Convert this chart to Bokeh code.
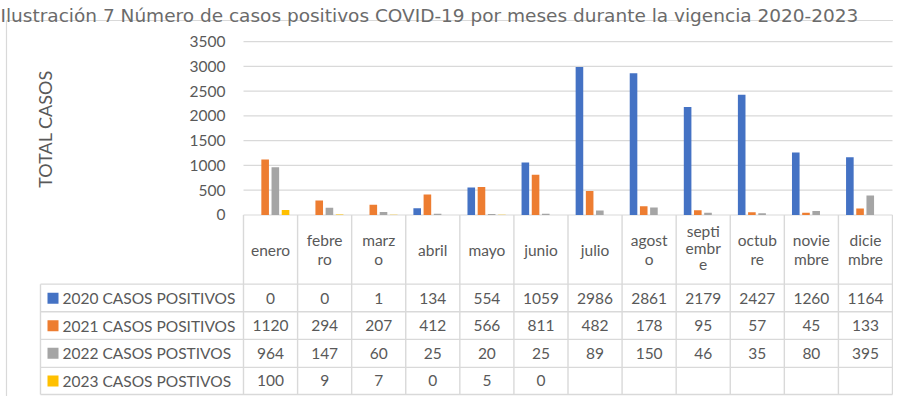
import math
from bokeh.plotting import figure
from bokeh.models import Range1d, ColumnDataSource
from bokeh.core.properties import value
from bokeh.transform import dodge
from bokeh.embed import file_html
from bokeh.resources import INLINE

# ---------------- data ----------------
TITLE = "Ilustración 7 Número de casos positivos COVID-19 por meses durante la vigencia 2020-2023"
Y_LABEL = "TOTAL CASOS"
MONTHS = ["enero", "febrero", "marzo", "abril", "mayo", "junio", "julio",
          "agosto", "septiembre", "octubre", "noviembre", "diciembre"]
MONTH_LABELS = ["enero", "febre\nro", "marz\no", "abril", "mayo", "junio", "julio",
                "agost\no", "septi\nembr\ne", "octub\nre", "novie\nmbre", "dicie\nmbre"]
SERIES = ["2020 CASOS POSITIVOS", "2021 CASOS POSITIVOS",
          "2022 CASOS POSTIVOS", "2023 CASOS POSTIVOS"]
V2020 = [0, 0, 1, 134, 554, 1059, 2986, 2861, 2179, 2427, 1260, 1164]
V2021 = [1120, 294, 207, 412, 566, 811, 482, 178, 95, 57, 45, 133]
V2022 = [964, 147, 60, 25, 20, 25, 89, 150, 46, 35, 80, 395]
V2023 = [100, 9, 7, 0, 5, 0, None, None, None, None, None, None]
Y_TICKS = [0, 500, 1000, 1500, 2000, 2500, 3000, 3500]
COLORS = ["#4472C4", "#ED7D31", "#A5A5A5", "#FFC000"]

# ---------------- layout (pixels) ----------------
W, H = 893, 396
def fy(ref):  # figure pixel (from top) for a reference pixel row
    return 20 + (ref - 10) * 0.935
def fx(ref):
    return ref - 4

PLOT_L, PLOT_R = fx(247), fx(896)
Y0_PX, YTOP_PX = fy(218), fy(32.5)
UPP = Y_TICKS[-1] / (Y0_PX - YTOP_PX)
CW = (PLOT_R - PLOT_L) / len(MONTHS)
def yv(px):
    return (Y0_PX - px) * UPP
def xv(px):
    return (px - PLOT_L) / CW

FONT = value("Lato")
GRAY_TXT = "#595959"
LINE = "#D9D9D9"
FS = "15.5px"

p = figure(width=W, height=H, output_backend="svg", toolbar_location=None,
           x_range=Range1d(xv(0), xv(W)), y_range=Range1d(yv(H), yv(0)),
           x_axis_location=None, y_axis_location=None, min_border=0,
           background_fill_color="white", border_fill_color="white")
p.outline_line_color = None
p.grid.grid_line_color = None

# outer chart box
p.segment(x0=[xv(fx(10)), xv(fx(10))], y0=[yv(fy(10)), yv(fy(10))],
          x1=[xv(W + 5), xv(fx(10))], y1=[yv(fy(10)), yv(H + 5)],
          line_color=LINE, line_width=1.2)

# title
p.text(x=[xv(0)], y=[yv(15)], text=[TITLE], text_font=value("DejaVu Sans"),
       text_font_size="18.5px", text_color="#6b6b6b", text_baseline="alphabetic",
       text_align="left")

# gridlines + tick labels
n = len(MONTHS)
p.segment(x0=[0] * len(Y_TICKS), x1=[n] * len(Y_TICKS), y0=Y_TICKS, y1=Y_TICKS,
          line_color=LINE, line_width=1.2)
p.text(x=[xv(fx(229))] * len(Y_TICKS), y=Y_TICKS, text=[str(t) for t in Y_TICKS],
       text_font=FONT, text_font_size=FS, text_color=GRAY_TXT,
       text_align="right", text_baseline="middle")

# axis title
p.text(x=[xv(fx(48))], y=[yv(fy(126))], text=[Y_LABEL], angle=math.pi / 2,
       text_font=FONT, text_font_size="18px", text_color=GRAY_TXT,
       text_align="center", text_baseline="middle")

# bars
idx = [i + 0.5 for i in range(n)]
nan = float("nan")
src = ColumnDataSource(dict(
    x=idx,
    v0=V2020, v1=V2021, v2=V2022,
    v3=[nan if v is None else v for v in V2023],
))
pitch = 10.2 / CW
bw = 7.6 / CW
for k, col in enumerate(["v0", "v1", "v2", "v3"]):
    off = (k - 1.5) * pitch - 0.3 / CW
    p.vbar(x=dodge("x", off, range=p.x_range), top=col, bottom=0, width=bw,
           source=src, fill_color=COLORS[k], line_color=None)

# ---------------- data table ----------------
ROW_REF = [292, 321.5, 351, 381, 410]
row_px = [fy(r) for r in ROW_REF]
LEG_L = xv(fx(44))
xs0, ys0, xs1, ys1 = [], [], [], []
for i in range(n + 1):
    xs0.append(i); xs1.append(i); ys0.append(0); ys1.append(yv(row_px[-1]))
xs0.append(LEG_L); xs1.append(LEG_L); ys0.append(yv(row_px[0])); ys1.append(yv(row_px[-1]))
for rp in row_px:
    xs0.append(LEG_L); xs1.append(n); ys0.append(yv(rp)); ys1.append(yv(rp))
p.segment(x0=xs0, y0=ys0, x1=xs1, y1=ys1, line_color=LINE, line_width=1.4)

# month header labels
hx, hy, ht = [], [], []
for i, lab in enumerate(MONTH_LABELS):
    parts = lab.split("\n")
    if len(parts) == 1:
        centers = [255]
    elif len(parts) == 2:
        centers = [244.5, 265.5]
    else:
        centers = [235, 253, 271]
    for part, c in zip(parts, centers):
        hx.append(i + 0.5); hy.append(yv(fy(c))); ht.append(part)
p.text(x=hx, y=hy, text=ht, text_font=FONT, text_font_size=FS,
       text_color=GRAY_TXT, text_align="center", text_baseline="middle")

# values
ROW_CENTERS = [307, 336.5, 366, 395.5]
tx, ty, tt = [], [], []
for r, vals in enumerate([V2020, V2021, V2022, V2023]):
    for i, v in enumerate(vals):
        if v is None:
            continue
        tx.append(i + 0.5); ty.append(yv(fy(ROW_CENTERS[r]))); tt.append(str(v))
p.text(x=tx, y=ty, text=tt, text_font=FONT, text_font_size=FS,
       text_color=GRAY_TXT, text_align="center", text_baseline="middle")

# legend keys
ly = [yv(fy(c)) for c in ROW_CENTERS]
p.scatter(x=[xv(fx(56.5))] * 4, y=ly, marker="square", size=11,
          fill_color=COLORS, line_color=None)
p.text(x=[xv(fx(66))] * 4, y=ly, text=SERIES, text_font=FONT, text_font_size=FS,
       text_color=GRAY_TXT, text_align="left", text_baseline="middle")

open("out.html", "w").write(file_html(p, INLINE))
